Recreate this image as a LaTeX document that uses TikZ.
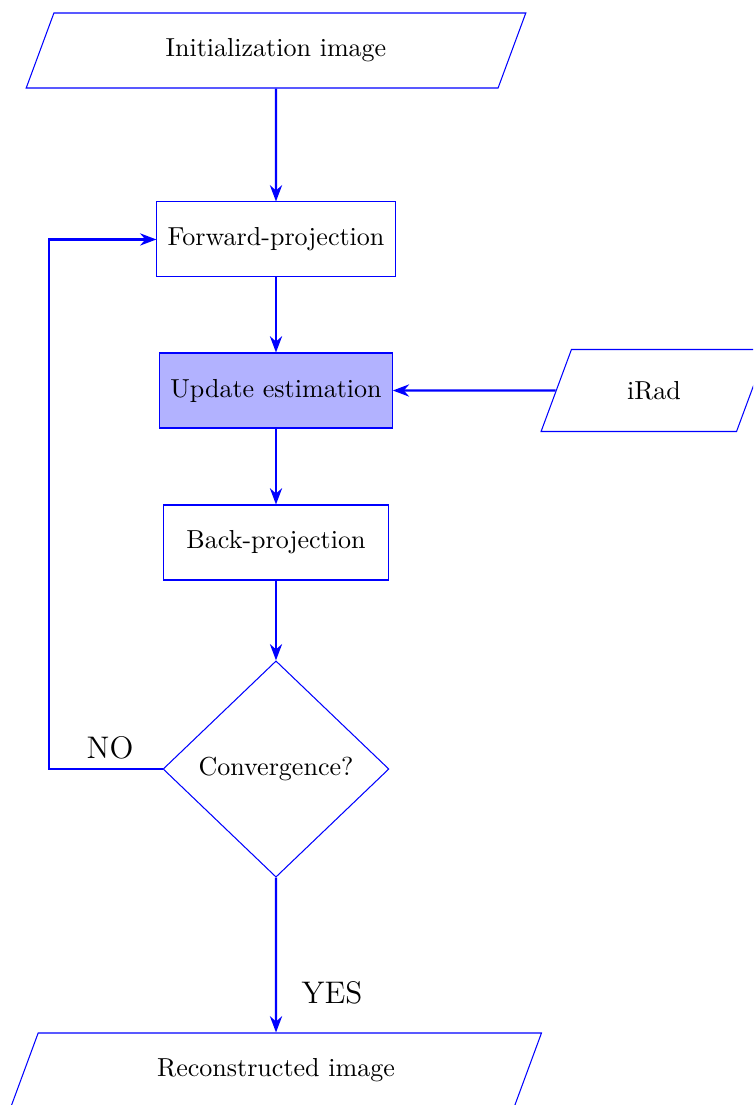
\documentclass[tikz,border=0pt]{standalone}
\usepackage{tikz}
\usetikzlibrary{arrows.meta, shapes.geometric, positioning}
\tikzset{
  iobox/.style  ={draw=blue, trapezium, trapezium left angle=70, trapezium right angle=110,
                  trapezium stretches=true, minimum height=1.0125cm},
  procbox/.style={draw=blue, rectangle, minimum height=1.0125cm, minimum width=3.05cm, inner xsep=4.1pt},
  hotbox/.style ={procbox, fill=blue!30},
  test/.style   ={draw=blue, diamond, minimum width=3.05cm, minimum height=2.92cm, inner sep=0pt},
  flow/.style   ={-{Stealth[length=2.2mm]}, thick, blue},       % main flow arrows
  branch/.style ={font=\large},
}

\begin{document}
\begin{tikzpicture}
  \clip (0,0) rectangle (10.166,-14.918);

  % MAIN COLUMN
  \node[iobox, minimum width=6.75cm] (init) at (3.726,-0.682)  {Initialization image};
  \node[procbox] (fwd)  at (3.726,-3.233)  {Forward-projection};
  \node[hotbox]  (upd)  at (3.726,-5.272)  {Update estimation};
  \node[procbox] (back) at (3.726,-7.324)  {Back-projection};
  \node[test]    (conv) at (3.726,-10.382) {Convergence?};
  \node[iobox, minimum width=7.17cm] (recon) at (3.726,-14.452) {Reconstructed image};

  % SIDE INPUT
  \node[iobox, minimum width=3.05cm, minimum height=1.107cm] (irad) at (8.829,-5.272) {iRad};

  \draw[flow] (init) -- (fwd);
  \draw[flow] (fwd)  -- (upd);
  \draw[flow] (upd)  -- (back);
  \draw[flow] (back) -- (conv);
  \draw[flow] (irad.west) -- (upd.east);

  % NO: back to the start of the loop
  \coordinate (bend) at (0.662,-10.382);
  \draw[flow] (conv.west) -- (bend) |- (fwd.west);
  \node[branch] (no) at (1.485,-10.098) {NO};

  % YES: done
  \draw[flow] (conv.south) -- (recon.north);
  \node[branch] (yes) at (4.482,-13.406) {YES};
\end{tikzpicture}
\end{document}
